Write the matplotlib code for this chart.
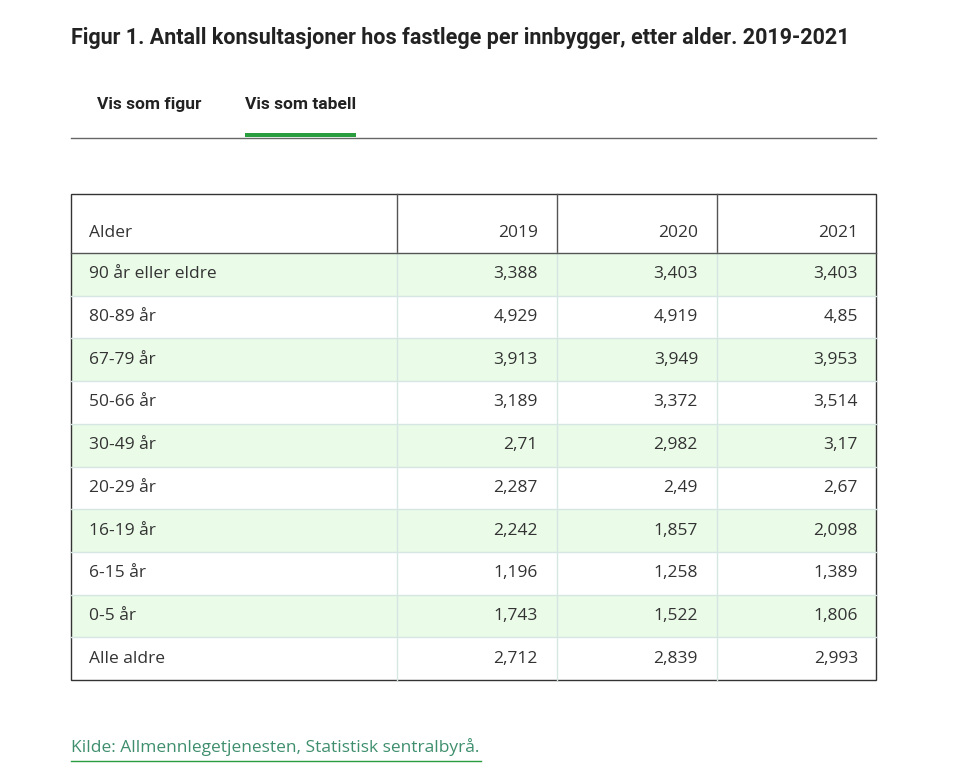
import matplotlib
matplotlib.use("Agg")
import matplotlib.pyplot as plt
from matplotlib.patches import Rectangle

TITLE = "Figur 1. Antall konsultasjoner hos fastlege per innbygger, etter alder. 2019-2021"
TABS = ["Vis som figur", "Vis som tabell"]
HEADER = ["Alder", "2019", "2020", "2021"]
AGES = ["90 år eller eldre", "80-89 år", "67-79 år", "50-66 år", "30-49 år",
        "20-29 år", "16-19 år", "6-15 år", "0-5 år", "Alle aldre"]
V2019 = ["3,388", "4,929", "3,913", "3,189", "2,71", "2,287", "2,242", "1,196", "1,743", "2,712"]
V2020 = ["3,403", "4,919", "3,949", "3,372", "2,982", "2,49", "1,857", "1,258", "1,522", "2,839"]
V2021 = ["3,403", "4,85", "3,953", "3,514", "3,17", "2,67", "2,098", "1,389", "1,806", "2,993"]
SOURCE = "Kilde: Allmennlegetjenesten, Statistisk sentralbyrå."

W, H = 960, 784
fig = plt.figure(figsize=(W / 100, H / 100), dpi=100)
ax = fig.add_axes([0, 0, 1, 1])
ax.set_xlim(0, W)
ax.set_ylim(H, 0)
ax.axis("off")

dark = "#222222"
body_font = "Open Sans"
head_font = "Roboto"
fs = 12.5

ax.text(71, 38, TITLE, fontsize=15.5, fontweight="bold", family=head_font,
        color=dark, va="center", ha="left")

# tabs
ax.text(97, 104, TABS[0], fontsize=12.5, fontweight="bold", family=head_font,
        color=dark, va="center")
ax.text(245, 104, TABS[1], fontsize=12.5, fontweight="bold", family=head_font,
        color=dark, va="center")
ax.plot([71, 876], [137.5, 137.5], color="#666666", lw=1)
ax.add_patch(Rectangle((245, 133), 111, 4, color="#2a9d3f", lw=0))

# table geometry
left, right, top, head_bot = 71, 876, 194, 253
row_h = (680 - head_bot) / len(AGES)
col_x = [left, 397, 557, 717, right]
text_right = [538, 698, 858]

for i, age in enumerate(AGES):
    y0 = head_bot + i * row_h
    if i % 2 == 0:
        ax.add_patch(Rectangle((left, y0), right - left, row_h,
                               color="#eafbe8", lw=0))
    if i > 0:
        ax.plot([left, right], [y0, y0], color="#d6e6e2", lw=1)
    yc = y0 + row_h / 2
    ax.text(89, yc, age, fontsize=fs, family=body_font, color="#333333",
            va="center", ha="left")
    for j, vals in enumerate([V2019, V2020, V2021]):
        ax.text(text_right[j], yc, vals[i], fontsize=fs, family=body_font,
                color="#333333", va="center", ha="right")

# header
hy = 233
ax.text(89, hy, HEADER[0], fontsize=fs, family=body_font, color="#333333",
        va="center", ha="left")
for j in range(3):
    ax.text(text_right[j], hy, HEADER[j + 1], fontsize=fs, family=body_font,
            color="#333333", va="center", ha="right")

# lines
for x in col_x[1:-1]:
    ax.plot([x, x], [top, head_bot], color="#555555", lw=1)
    ax.plot([x, x], [head_bot, 680], color="#d6e6e2", lw=1)
ax.plot([left, right], [head_bot, head_bot], color="#555555", lw=1)
ax.add_patch(Rectangle((left, top), right - left, 680 - top, fill=False,
                       edgecolor="#333333", lw=1))

# source
ax.text(71, 747, SOURCE, fontsize=fs, family=body_font, color="#3f8f6e",
        va="center", ha="left")
ax.plot([71, 481], [761, 761], color="#2a9d3f", lw=1)

fig.savefig("out.png", dpi=100)
